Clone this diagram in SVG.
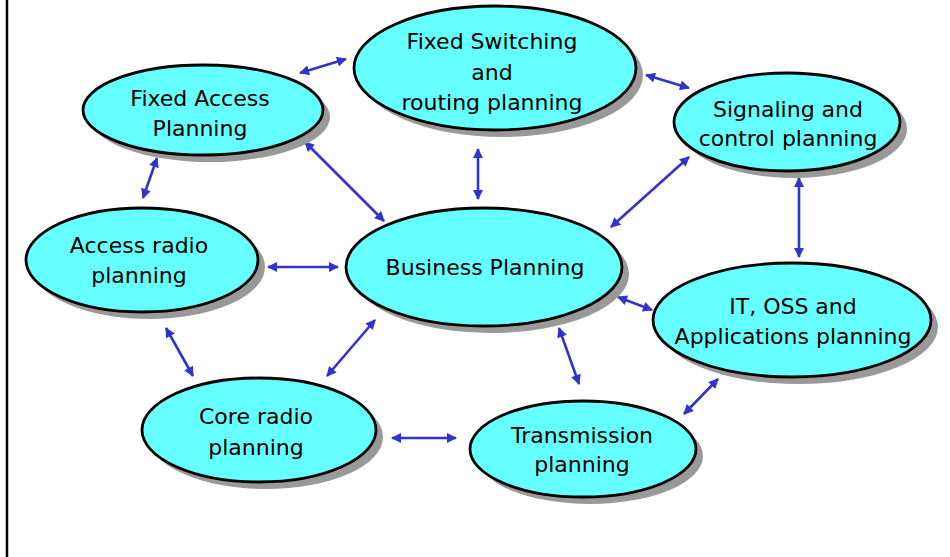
<svg xmlns="http://www.w3.org/2000/svg" width="950" height="557" viewBox="0 0 950 557">
<defs>
<marker id="ah" viewBox="0 0 10 10" refX="9" refY="5" markerWidth="12" markerHeight="10" markerUnits="userSpaceOnUse" orient="auto-start-reverse">
<path d="M0,0 L10,5 L0,10 z" fill="#3333cc"/>
</marker>
</defs>
<style>
.sh{fill:#999999;stroke:none}
.el{fill:#66ffff;stroke:#000;stroke-width:2.8}
.t{font-family:"DejaVu Sans",sans-serif;font-size:22px;fill:#000;text-anchor:middle}
.c{stroke:#3333cc;stroke-width:2.6;fill:none;marker-start:url(#ah);marker-end:url(#ah)}
</style>
<rect width="950" height="557" fill="#fff"/>
<line x1="7" y1="0" x2="7" y2="557" stroke="#000" stroke-width="2.5"/>
<g id="connectors">
<line class="c" x1="300" y1="73" x2="346" y2="59"/>
<line class="c" x1="646" y1="75" x2="689" y2="88"/>
<line class="c" x1="305" y1="142" x2="384" y2="221"/>
<line class="c" x1="157" y1="158" x2="143" y2="198"/>
<line class="c" x1="478" y1="149" x2="478" y2="199"/>
<line class="c" x1="689" y1="157" x2="611" y2="227"/>
<line class="c" x1="799" y1="178" x2="799" y2="257"/>
<line class="c" x1="268" y1="267" x2="338" y2="267"/>
<line class="c" x1="166" y1="328" x2="193" y2="376"/>
<line class="c" x1="375" y1="320" x2="327" y2="376"/>
<line class="c" x1="618" y1="297" x2="652" y2="310"/>
<line class="c" x1="559" y1="328" x2="579" y2="384"/>
<line class="c" x1="392" y1="438" x2="456" y2="438"/>
<line class="c" x1="684" y1="414" x2="718" y2="379"/>
</g>
<g id="fixed-switching">
<ellipse class="sh" cx="502" cy="75" rx="141" ry="62"/>
<ellipse class="el" cx="495" cy="68" rx="141" ry="62"/>
<text class="t" x="492" y="49">Fixed Switching</text>
<text class="t" x="492" y="80">and</text>
<text class="t" x="492" y="110">routing planning</text>
</g>
<g id="fixed-access">
<ellipse class="sh" cx="210" cy="117" rx="120" ry="45"/>
<ellipse class="el" cx="203" cy="110" rx="120" ry="45"/>
<text class="t" x="200" y="106">Fixed Access</text>
<text class="t" x="200" y="136">Planning</text>
</g>
<g id="signaling">
<ellipse class="sh" cx="794" cy="129" rx="113" ry="49"/>
<ellipse class="el" cx="787" cy="122" rx="113" ry="49"/>
<text class="t" x="788" y="117">Signaling and</text>
<text class="t" x="788" y="146">control planning</text>
</g>
<g id="access-radio">
<ellipse class="sh" cx="149" cy="267" rx="116" ry="52"/>
<ellipse class="el" cx="142" cy="260" rx="116" ry="52"/>
<text class="t" x="139" y="253">Access radio</text>
<text class="t" x="139" y="283">planning</text>
</g>
<g id="business">
<ellipse class="sh" cx="491" cy="274" rx="138" ry="59"/>
<ellipse class="el" cx="484" cy="267" rx="138" ry="59"/>
<text class="t" x="485" y="275">Business Planning</text>
</g>
<g id="it-oss">
<ellipse class="sh" cx="799" cy="327" rx="139" ry="57"/>
<ellipse class="el" cx="792" cy="320" rx="139" ry="57"/>
<text class="t" x="793" y="314">IT, OSS and</text>
<text class="t" x="793" y="344">Applications planning</text>
</g>
<g id="core-radio">
<ellipse class="sh" cx="266" cy="437" rx="117" ry="52"/>
<ellipse class="el" cx="259" cy="430" rx="117" ry="52"/>
<text class="t" x="256" y="424">Core radio</text>
<text class="t" x="256" y="455">planning</text>
</g>
<g id="transmission">
<ellipse class="sh" cx="590" cy="456" rx="113" ry="48"/>
<ellipse class="el" cx="583" cy="449" rx="113" ry="48"/>
<text class="t" x="582" y="443">Transmission</text>
<text class="t" x="582" y="472">planning</text>
</g>
</svg>
